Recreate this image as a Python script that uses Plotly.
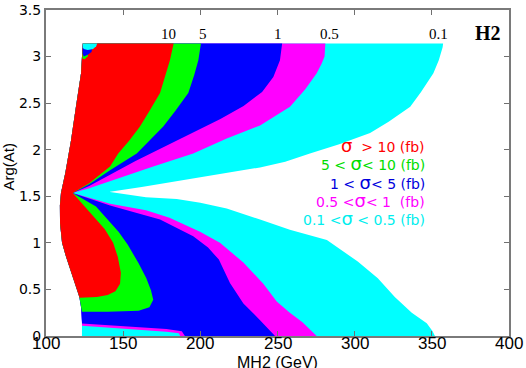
import plotly.graph_objects as go

PI = 3.1416

# ---- domain left edge (top -> bottom) ----
LEFT_X = [123.8, 122.7, 119.4, 116.2, 112.5, 109.7, 109.0, 109.1, 110.4, 113.0, 116.2, 119.0, 121.6, 122.7, 123.3, 123.3]
LEFT_Y = [PI, 2.82, 2.46, 2.10, 1.75, 1.535, 1.40, 1.21, 1.0, 0.85, 0.68, 0.55, 0.42, 0.31, 0.15, 0.0]

# ---- upper-half contours (top -> pinch) ----
S01_UP_X = [357.3, 357.0, 356.0, 354.5, 351, 347, 343, 336, 322, 310, 290, 271, 255, 238.7, 228, 205, 185, 162, 141.5]
S01_UP_Y = [PI, 3.10, 3.04, 2.96, 2.82, 2.72, 2.62, 2.46, 2.30, 2.18, 2.06, 1.96, 1.87, 1.81, 1.78, 1.72, 1.66, 1.60, 1.55]
S05_UP_X = [281, 280.5, 278.5, 275.4, 268, 258.1, 238.7, 217.1, 195.4, 169.5, 141.5, 128, 117.3]
S05_UP_Y = [PI, 3.0, 2.92, 2.82, 2.65, 2.46, 2.26, 2.12, 1.96, 1.82, 1.665, 1.585, 1.535]
S1_UP_X = [253, 251.6, 247.3, 240, 228, 213, 195, 175, 158, 141.5, 128, 117.3]
S1_UP_Y = [PI, 2.96, 2.78, 2.62, 2.47, 2.33, 2.18, 2.02, 1.88, 1.73, 1.61, 1.535]
S5_UP_X = [200.4, 198.7, 196.0, 192.2, 184, 176, 167, 158.8, 141.5, 128, 117.3]
S5_UP_Y = [PI, 2.96, 2.80, 2.61, 2.42, 2.25, 2.10, 1.96, 1.78, 1.63, 1.535]
S10_UP_X = [182.7, 180.3, 177.5, 173.9, 167.5, 160.9, 154, 146.8, 141.5, 128, 117.3]
S10_UP_Y = [PI, 2.96, 2.8, 2.61, 2.43, 2.25, 2.10, 1.96, 1.82, 1.64, 1.535]

# ---- lower-half contours (pinch -> bottom) ----
S01_LO_X = [141.5, 164.8, 184.7, 200, 217.1, 238.7, 258, 282, 302, 315, 326, 337, 346.7, 350.5, 352]
S01_LO_Y = [1.545, 1.49, 1.47, 1.43, 1.37, 1.25, 1.14, 1.03, 0.80, 0.62, 0.42, 0.25, 0.136, 0.05, 0.0]
S05_LO_X = [117.3, 141.5, 164.8, 180, 199.8, 212.7, 227.9, 240.8, 249.5, 258, 266, 275.4]
S05_LO_Y = [1.535, 1.42, 1.35, 1.27, 1.12, 1.0, 0.79, 0.56, 0.37, 0.25, 0.15, 0.0]
S1_LO_X = [117.3, 141.5, 173.9, 195.4, 205, 212, 219.2, 227.9, 238.7, 248.4]
S1_LO_Y = [1.535, 1.40, 1.25, 1.07, 0.95, 0.82, 0.57, 0.35, 0.17, 0.0]
S5_LO_X = [117.3, 132.4, 141.5, 147, 153, 160, 165, 168, 169.5, 167, 160, 140, 123.3]
S5_LO_Y = [1.535, 1.39, 1.22, 1.12, 0.98, 0.78, 0.62, 0.49, 0.39, 0.31, 0.27, 0.26, 0.26]
S10_LO_X = [117.3, 130, 138, 143.5, 146.5, 148.5, 148, 145, 140, 133, 126, 121.8]
S10_LO_Y = [1.535, 1.30, 1.15, 1.0, 0.85, 0.68, 0.56, 0.48, 0.44, 0.42, 0.41, 0.41]

# ---- thin bottom stripes (left -> right) ----
B05_X = [123.3, 141.5, 160, 178, 186, 187]
B05_Y = [0.11, 0.085, 0.065, 0.045, 0.03, 0.0]
B1_X = [123.3, 141.5, 160, 178, 188, 190]
B1_Y = [0.135, 0.115, 0.095, 0.075, 0.05, 0.0]

# ---- small blob at the top-left corner ----
BLOB_G_X = [123.8, 127.5, 127, 125, 123.6]
BLOB_G_Y = [3.06, 3.05, 3.0, 2.97, 2.98]
BLOB_B_X = [123.8, 130, 129.5, 127, 124.5, 123.7]
BLOB_B_Y = [3.12, 3.09, 3.05, 3.02, 3.0, 3.03]
BLOB_C_X = [123.8, 133.2, 132.5, 130.5, 127, 124.5, 123.8]
BLOB_C_Y = [PI, PI, 3.11, 3.08, 3.07, 3.08, 3.1]

# ---- labels ----
X_TICKS = [100, 150, 200, 250, 300, 350, 400]
Y_TICKS = [0, 0.5, 1, 1.5, 2, 2.5, 3, 3.5]
Y_TICK_TEXT = ["0", "0.5", "1", "1.5", "2", "2.5", "3", "3.5"]
TOP_LABELS = ["10", "5", "1", "0.5", "0.1"]
TOP_LABEL_X = [179.2, 201.8, 250.3, 284, 354]
LEGEND_TEXT = ["σ  > 10 (fb)", "5 < σ< 10 (fb)", "1 < σ< 5 (fb)", "0.5 <σ< 1  (fb)", "0.1 <σ < 0.5 (fb)"]
LEGEND_Y = [2.05, 1.85, 1.65, 1.45, 1.26]
COLORS = ["#ff0000", "#00ff00", "#0000ff", "#ff00ff", "#00ffff"]
TEXT_COLORS = ["#ff0000", "#00dd00", "#0000dd", "#ff00ff", "#00eeee"]


def left_up(ymin):
    pts = [(x, y) for x, y in zip(LEFT_X, LEFT_Y) if y > ymin]
    pts = pts[::-1]
    return [p[0] for p in pts], [p[1] for p in pts]


def region(up_x, up_y, lo_x, lo_y, bot_x, bot_y, ymin):
    lx, ly = left_up(ymin)
    xs = [LEFT_X[0]] + up_x + lo_x + bot_x[::-1] + lx
    ys = [LEFT_Y[0]] + up_y + lo_y + bot_y[::-1] + ly
    return xs, ys


fig = go.Figure()


def add_poly(xs, ys, color):
    fig.add_trace(go.Scatter(x=xs, y=ys, mode="lines", fill="toself", fillcolor=color,
                             line=dict(width=0, color=color),
                             hoverinfo="skip", showlegend=False))


regions = [
    region(S01_UP_X, S01_UP_Y, S01_LO_X, S01_LO_Y, [123.3], [0.0], -1),
    region(S05_UP_X, S05_UP_Y, S05_LO_X, S05_LO_Y, B05_X, B05_Y, B05_Y[0]),
    region(S1_UP_X, S1_UP_Y, S1_LO_X, S1_LO_Y, B1_X, B1_Y, B1_Y[0]),
    region(S5_UP_X, S5_UP_Y, S5_LO_X, S5_LO_Y, [], [], S5_LO_Y[-1]),
    region(S10_UP_X, S10_UP_Y, S10_LO_X, S10_LO_Y, [], [], S10_LO_Y[-1]),
]
for (xs, ys), c in zip(regions, COLORS[::-1]):
    add_poly(xs, ys, c)

add_poly(BLOB_G_X, BLOB_G_Y, COLORS[1])
add_poly(BLOB_B_X, BLOB_B_Y, COLORS[2])
add_poly(BLOB_C_X, BLOB_C_Y, COLORS[4])

# contour labels along the top
for t, x in zip(TOP_LABELS, TOP_LABEL_X):
    fig.add_annotation(x=x, y=3.24, text=t, showarrow=False, xanchor="center", yanchor="middle",
                       font=dict(family="Liberation Serif", size=15, color="black"))
fig.add_annotation(x=386.7, y=3.25, text="<b>H2</b>", showarrow=False, xanchor="center", yanchor="middle",
                   font=dict(family="Liberation Serif", size=20, color="black"))

# coloured legend texts
for t, y, c in zip(LEGEND_TEXT, LEGEND_Y, TEXT_COLORS):
    t = t.replace("σ", "<span style='font-size:18px'>σ</span>").replace("  ", " &nbsp;")
    fig.add_annotation(x=346.9, y=y, text=t, showarrow=False, xanchor="right", yanchor="middle",
                       font=dict(family="DejaVu Sans", size=14, color=c))

# x tick labels (placed tight under the axis as in the reference)
for v in X_TICKS:
    fig.add_annotation(x=v, xref="x", yref="paper", y=-0.024, text=str(v), showarrow=False,
                       xanchor="center", yanchor="middle",
                       font=dict(family="Liberation Sans", size=17, color="black"))

# axis titles
fig.add_annotation(xref="paper", yref="paper", x=0.5, y=-0.08, text="MH2 (GeV)", showarrow=False,
                   xanchor="center", yanchor="middle", font=dict(family="Liberation Sans", size=16, color="black"))
fig.add_annotation(xref="paper", yref="paper", x=-0.082, y=0.52, text="Arg(At)", showarrow=False, textangle=-90,
                   xanchor="center", yanchor="middle", font=dict(family="Liberation Sans", size=15, color="black"))

fig.update_layout(
    width=526, height=368,
    margin=dict(l=46, r=17, t=10, b=32, autoexpand=False),
    plot_bgcolor="white", paper_bgcolor="white",
    xaxis=dict(range=[100, 400], tickvals=X_TICKS, showticklabels=False, ticks="inside", ticklen=5,
               tickcolor="#707070", showline=True, linecolor="#7a7a7a", linewidth=2, mirror="ticks",
               showgrid=False, zeroline=False, automargin=False),
    yaxis=dict(range=[0, 3.5], tickvals=Y_TICKS, ticktext=Y_TICK_TEXT, ticks="inside", ticklen=5,
               tickcolor="#707070", showline=True, linecolor="#7a7a7a", linewidth=2, mirror="ticks",
               showgrid=False, zeroline=False, automargin=False,
               tickfont=dict(family="DejaVu Sans", size=14, color="black")),
)

fig.write_html("out.html", config={"displayModeBar": False},
               post_script="document.body.style.margin='0px';")
